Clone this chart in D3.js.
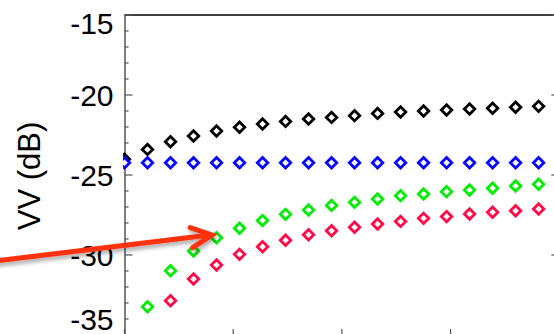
<!DOCTYPE html>
<html>
<head>
<meta charset="utf-8">
<script src="https://cdn.jsdelivr.net/npm/d3@7"></script>
<style>
  html, body { margin: 0; padding: 0; background: #fff; }
  svg { display: block; font-family: Helvetica, "Liberation Sans", Arial, sans-serif; }
</style>
</head>
<body>
<div class="chart-container"></div>
<script>
// data (x = sample index)
const xValues = [0, 1, 2, 3, 4, 5, 6, 7, 8, 9, 10, 11, 12, 13, 14, 15, 16, 17, 18];
const blackSeries = [-24.02, -23.40, -22.92, -22.56, -22.25, -22.02, -21.81, -21.65, -21.50, -21.40,
                     -21.29, -21.15, -21.06, -21.00, -20.94, -20.88, -20.83, -20.77, -20.71];
const blueSeries = [-24.23, -24.23, -24.23, -24.23, -24.23, -24.23, -24.23, -24.23, -24.23, -24.23,
                    -24.23, -24.23, -24.23, -24.23, -24.23, -24.23, -24.23, -24.23, -24.23];
const greenSeries = [null, -33.23, -30.98, -29.75, -28.92, -28.33, -27.85, -27.46, -27.19, -26.90,
                     -26.71, -26.50, -26.29, -26.19, -26.04, -25.94, -25.83, -25.69, -25.58];
const redSeries = [null, null, -32.86, -31.50, -30.63, -29.96, -29.48, -29.08, -28.73, -28.48,
                   -28.27, -28.06, -27.90, -27.71, -27.60, -27.44, -27.33, -27.23, -27.13];
const yTickLabels = [-35, -30, -25, -20, -15];
const xTickValues = [0, 4.725, 9.45, 14.175, 18.9];
// arrow annotation in data units: tail -> tip
const arrowTail = [-5.41, -30.38];
const arrowTip = [3.8, -28.75];

const series = [
    { values: blackSeries, color: '#000000' },
    { values: blueSeries, color: '#0505ff' },
    { values: greenSeries, color: '#00ee00' },
    { values: redSeries, color: '#ff0a45' }
];

const W = 554, H = 334;
const margin = { top: 15, left: 124.5 };
const plotW = 434.8, plotH = 320;

const svg = d3.select('.chart-container')
    .append('svg')
    .attr('width', W)
    .attr('height', H);

const x = d3.scaleLinear()
    .domain([0, 18.9])
    .range([margin.left, margin.left + plotW]);

const y = d3.scaleLinear()
    .domain([-35, -15])
    .range([margin.top + plotH, margin.top]);

const minorTicks = y.ticks(20);

// top border
svg.append('line')
    .attr('x1', x(0)).attr('x2', x(18.9))
    .attr('y1', y(-15)).attr('y2', y(-15))
    .attr('stroke', '#000').attr('stroke-width', 1.6);

// left axis, ticks pointing inward
const yAxis = svg.append('g')
    .attr('class', 'y-axis')
    .attr('transform', `translate(${x(0)},0)`)
    .call(d3.axisLeft(y).tickValues(yTickLabels).tickSize(0).tickPadding(11).tickFormat(d => String(d)));
yAxis.select('.domain').attr('stroke', '#555').attr('stroke-width', 1.5);
yAxis.selectAll('text')
    .attr('font-size', 30)
    .attr('fill', '#000')
    .style('font-family', 'Helvetica, "Liberation Sans", Arial, sans-serif')
    .attr('dy', d => d === -15 ? '0.6em' : d === -35 ? '-0.2em' : '0.36em');

svg.append('g')
    .selectAll('line')
    .data(minorTicks)
    .enter()
    .append('line')
    .attr('x1', x(0))
    .attr('x2', d => x(0) + (yTickLabels.includes(d) ? 8 : 4))
    .attr('y1', d => y(d)).attr('y2', d => y(d))
    .attr('stroke', '#555').attr('stroke-width', 1.2);

// right axis ticks
svg.append('g')
    .selectAll('line')
    .data(minorTicks)
    .enter()
    .append('line')
    .attr('x1', x(18.9))
    .attr('x2', d => x(18.9) - (yTickLabels.includes(d) ? 8 : 4))
    .attr('y1', d => y(d)).attr('y2', d => y(d))
    .attr('stroke', '#555').attr('stroke-width', 1.2);

// bottom axis ticks (axis itself sits just below the frame)
svg.append('g')
    .selectAll('line')
    .data(xTickValues)
    .enter()
    .append('line')
    .attr('x1', d => x(d)).attr('x2', d => x(d))
    .attr('y1', y(-35)).attr('y2', y(-35) - 6)
    .attr('stroke', '#555').attr('stroke-width', 1.2);

// clip markers to the axes box
svg.append('clipPath')
    .attr('id', 'plot-clip')
    .append('rect')
    .attr('x', x(0) - 1.5).attr('y', 0)
    .attr('width', plotW + 2).attr('height', H);

const diamond = d3.symbol().type(d3.symbolDiamond2).size(70);

svg.append('g')
    .attr('clip-path', 'url(#plot-clip)')
    .selectAll('g')
    .data(series)
    .enter()
    .append('g')
    .each(function(s) {
        d3.select(this)
            .selectAll('path')
            .data(s.values.map((v, i) => ({ x: xValues[i], v })).filter(d => d.v !== null))
            .enter()
            .append('path')
            .attr('d', diamond)
            .attr('transform', d => `translate(${x(d.x)},${y(d.v)})`)
            .attr('fill', '#fff')
            .attr('stroke', s.color)
            .attr('stroke-width', 2.8);
    });

// arrow annotation with soft shadow
const defs = svg.append('defs');
defs.append('filter')
    .attr('id', 'shadow')
    .attr('x', '-20%').attr('y', '-50%').attr('width', '140%').attr('height', '200%')
    .append('feDropShadow')
    .attr('dx', 1.5).attr('dy', 3).attr('stdDeviation', 2)
    .attr('flood-color', '#000').attr('flood-opacity', 0.35);

const tx = x(arrowTip[0]), ty = y(arrowTip[1]);
const ang = Math.atan2(ty - y(arrowTail[1]), tx - x(arrowTail[0]));
const wing = 23, spread = 26 * Math.PI / 180;
const w1 = [tx - wing * Math.cos(ang - spread), ty - wing * Math.sin(ang - spread)];
const w2 = [tx - wing * Math.cos(ang + spread), ty - wing * Math.sin(ang + spread)];

const arrow = svg.append('g')
    .attr('filter', 'url(#shadow)')
    .attr('fill', 'none')
    .attr('stroke', '#ff3010')
    .attr('stroke-width', 5)
    .attr('stroke-linecap', 'round')
    .attr('stroke-linejoin', 'miter');
arrow.append('line')
    .attr('x1', x(arrowTail[0]) - 5).attr('y1', y(arrowTail[1]))
    .attr('x2', tx - 2).attr('y2', ty);
arrow.append('path')
    .attr('d', `M${w1[0]},${w1[1]}L${tx},${ty}L${w2[0]},${w2[1]}`);

// y label
svg.append('text')
    .attr('transform', `translate(${40},${176}) rotate(-90)`)
    .attr('text-anchor', 'middle')
    .attr('font-size', 31)
    .attr('fill', '#000')
    .text('VV (dB)');
</script>
</body>
</html>
